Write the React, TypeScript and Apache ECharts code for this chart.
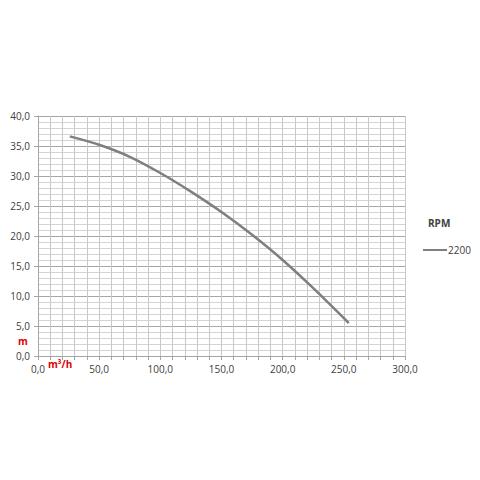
import * as echarts from 'echarts';
import { useEffect, useRef } from 'react';

// flow (m³/h) and head (m)
const flowValues = [26, 50, 75, 100, 125, 150, 175, 200, 225, 254];
const headValues = [36.6, 35.2, 33.2, 30.5, 27.4, 24.0, 20.2, 16.0, 11.3, 5.5];
const seriesName = '2200';
const legendTitle = 'RPM';
const xUnit = 'm³/h';
const yUnit = 'm';

const fmt = (v: number) => v.toFixed(1).replace('.', ',');

const FONT = '"Open Sans", "Liberation Sans", sans-serif';

export default function App() {
  const chartRef = useRef<HTMLDivElement>(null);

  useEffect(() => {
    if (!chartRef.current) return;
    const chart = echarts.init(chartRef.current, undefined, { renderer: 'svg' });

    const option = {
      animation: false,
      backgroundColor: '#ffffff',
      textStyle: { fontFamily: FONT },
      grid: { left: 38, right: 75, top: 116, bottom: 124, containLabel: false },
      xAxis: {
        type: 'value',
        min: 0,
        max: 300,
        interval: 50,
        axisLine: { show: true, lineStyle: { color: '#a6a6a6', width: 1 } },
        axisTick: { show: true, length: 4, lineStyle: { color: '#a6a6a6' } },
        minorTick: { show: true, splitNumber: 5, length: 4, lineStyle: { color: '#a6a6a6' } },
        axisLabel: { color: '#404040', fontSize: 10, margin: 8, formatter: fmt },
        splitLine: { show: true, lineStyle: { color: '#c8c8c8', width: 1 } },
        minorSplitLine: { show: true, lineStyle: { color: '#c8c8c8', width: 1 } }
      },
      yAxis: {
        type: 'value',
        min: 0,
        max: 40,
        interval: 5,
        axisLine: { show: true, lineStyle: { color: '#a6a6a6', width: 1 } },
        axisTick: { show: true, length: 4, lineStyle: { color: '#a6a6a6' } },
        minorTick: { show: false, splitNumber: 5 },
        axisLabel: { color: '#404040', fontSize: 10, margin: 8, formatter: fmt },
        splitLine: { show: true, lineStyle: { color: '#a6a6a6', width: 1 } },
        minorSplitLine: { show: true, lineStyle: { color: '#d4d4d4', width: 1 } }
      },
      legend: {
        show: true,
        orient: 'vertical',
        left: 418,
        top: 240,
        itemWidth: 24,
        itemHeight: 10,
        itemGap: 2,
        textStyle: { color: '#404040', fontSize: 10, padding: [0, 0, 0, -4] },
        data: [{ name: seriesName, icon: 'path://M0,4 L24,4 L24,6 L0,6 Z' }]
      },
      graphic: [
        {
          type: 'text',
          left: 428,
          top: 218,
          style: { text: legendTitle, fill: '#404040', font: `bold 10px ${FONT}` }
        },
        {
          type: 'text',
          left: 18,
          top: 336,
          style: { text: yUnit, fill: '#e00000', font: `bold 10px ${FONT}` }
        },
        {
          type: 'text',
          left: 48,
          top: 359,
          style: { text: xUnit, fill: '#e00000', font: `bold 10px ${FONT}` }
        }
      ],
      series: [
        {
          name: seriesName,
          type: 'line',
          smooth: 0.3,
          symbol: 'none',
          lineStyle: { color: '#7f7f7f', width: 2.5 },
          itemStyle: { color: '#7f7f7f' },
          data: flowValues.map((x, i) => [x, headValues[i]])
        }
      ]
    };

    chart.setOption(option as any);
    return () => chart.dispose();
  }, []);

  return (
    <div
      ref={chartRef}
      style={{ position: 'absolute', left: 0, top: 0, width: '480px', height: '480px' }}
    />
  );
}
